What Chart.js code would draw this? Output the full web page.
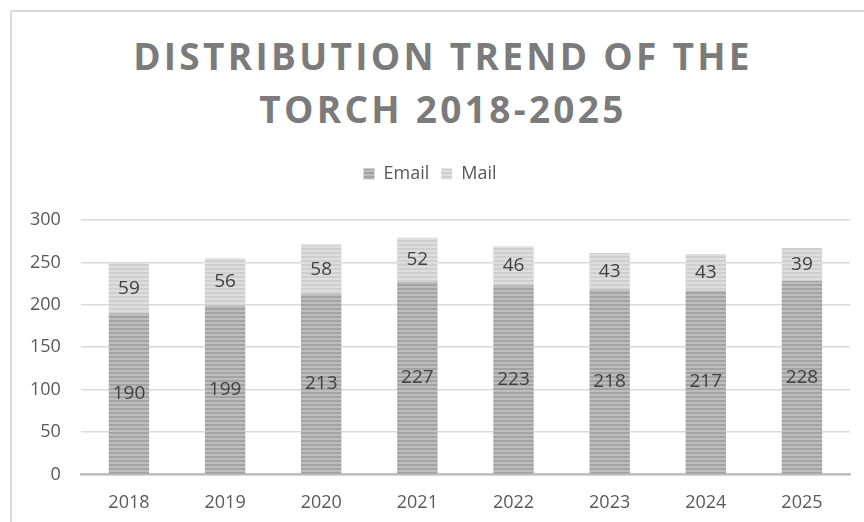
<!DOCTYPE html>
<html>
<head>
<meta charset="utf-8">
<script src="https://cdn.jsdelivr.net/npm/chart.js@4/dist/chart.umd.min.js"></script>
<style>
  html, body { margin: 0; padding: 0; background: #fff; overflow: hidden; }
  #wrap { position: relative; width: 864px; height: 522px; overflow: hidden; }
  #frame { position: absolute; left: 10px; top: 10px; width: 900px; height: 600px;
           border-left: 2px solid #d9d9d9; border-top: 2px solid #d9d9d9; }
  #title { position: absolute; left: 0; top: 29px; width: 886px; text-align: center;
           font-family: "Open Sans", sans-serif; font-weight: bold; font-size: 37px;
           letter-spacing: 3.3px; line-height: 53px; color: #7b7b7b; }
  canvas { position: absolute; left: 0; top: 0; }
</style>
</head>
<body>
<div id="wrap">
  <div id="frame"></div>
  <div id="title">DISTRIBUTION TREND OF THE<br>TORCH 2018-2025</div>
  <canvas id="chart" width="864" height="532"></canvas>
</div>
<script>
const years = ['2018', '2019', '2020', '2021', '2022', '2023', '2024', '2025'];
const email = [190, 199, 213, 227, 223, 218, 217, 228];
const mail = [59, 56, 58, 52, 46, 43, 43, 39];

function stripes(base, line) {
    const c = document.createElement('canvas');
    c.width = 4;
    c.height = 4;
    const g = c.getContext('2d');
    g.fillStyle = base;
    g.fillRect(0, 0, 4, 4);
    g.fillStyle = line;
    g.fillRect(0, 0, 4, 2);
    return g.createPattern(c, 'repeat');
}

// draws the value in the middle of each bar segment
const valueLabels = {
    id: 'valueLabels',
    afterDatasetsDraw(chart) {
        const ctx = chart.ctx;
        ctx.save();
        ctx.font = '19px "Open Sans", sans-serif';
        ctx.fillStyle = '#404040';
        ctx.textAlign = 'center';
        ctx.textBaseline = 'middle';
        chart.data.datasets.forEach((ds, i) => {
            chart.getDatasetMeta(i).data.forEach((bar, j) => {
                ctx.fillText(ds.data[j], bar.x, (bar.y + bar.base) / 2);
            });
        });
        ctx.restore();
    }
};

// extra room under the legend
const legendGap = {
    id: 'legendGap',
    beforeInit(chart) {
        const fit = chart.legend.fit;
        chart.legend.fit = function () {
            fit.bind(chart.legend)();
            this.height += 27;
        };
    }
};

new Chart(document.getElementById('chart'), {
    type: 'bar',
    data: {
        labels: years,
        datasets: [
            { label: 'Email', data: email, backgroundColor: stripes('#bdbdbd', '#a3a3a3') },
            { label: 'Mail', data: mail, backgroundColor: stripes('#dedede', '#cfcfcf') }
        ]
    },
    options: {
        responsive: false,
        animation: false,
        categoryPercentage: 1,
        barPercentage: 0.42,
        layout: { padding: { top: 153, left: 10, right: 14, bottom: 0 } },
        plugins: {
            legend: {
                position: 'top',
                labels: {
                    font: { family: 'Open Sans', size: 18 },
                    color: '#595959',
                    boxWidth: 11,
                    boxHeight: 11,
                    padding: 12
                }
            },
            tooltip: { enabled: false }
        },
        scales: {
            x: {
                stacked: true,
                grid: { display: false, drawTicks: false },
                border: { color: '#bfbfbf', width: 2.5 },
                ticks: { font: { family: 'Open Sans', size: 18 }, color: '#595959', padding: 18 }
            },
            y: {
                stacked: true,
                min: 0,
                max: 300,
                ticks: { stepSize: 50, font: { family: 'Open Sans', size: 18 }, color: '#595959', padding: 20 },
                grid: { color: '#d9d9d9', lineWidth: 1.5, drawTicks: false },
                border: { display: false }
            }
        }
    },
    plugins: [valueLabels, legendGap]
});
</script>
</body>
</html>
